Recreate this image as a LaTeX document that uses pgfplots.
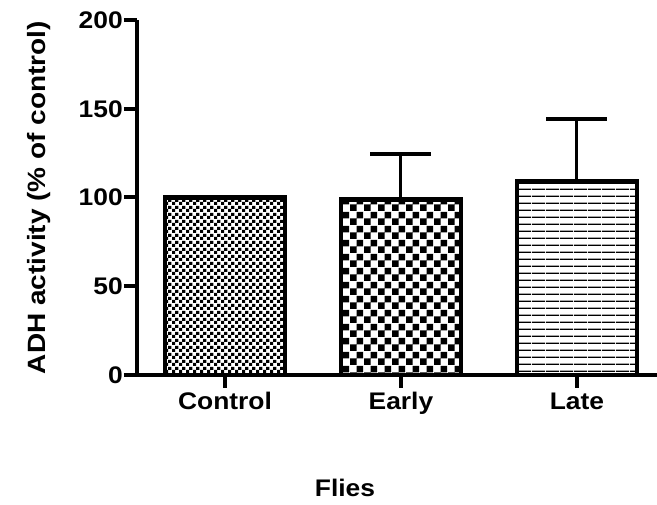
\documentclass[border=0pt]{standalone}
\usepackage{pgfplots}
\pgfplotsset{compat=1.18}
\usetikzlibrary{patterns}
\usepackage{graphicx}
\usepackage{fontspec}
\setmainfont{Liberation Sans}

% fill patterns for the three bars
\pgfdeclarepatternformonly{finecheck}{\pgfqpoint{0pt}{0pt}}{\pgfqpoint{6.6pt}{6.6pt}}{\pgfqpoint{6.6pt}{6.6pt}}{%
  \pgfpathrectangle{\pgfqpoint{0pt}{0pt}}{\pgfqpoint{3.3pt}{3.3pt}}%
  \pgfpathrectangle{\pgfqpoint{3.3pt}{3.3pt}}{\pgfqpoint{3.3pt}{3.3pt}}%
  \pgfusepath{fill}}
\pgfdeclarepatternformonly{coarsecheck}{\pgfqpoint{0pt}{0pt}}{\pgfqpoint{14pt}{14pt}}{\pgfqpoint{14pt}{14pt}}{%
  \pgfpathrectangle{\pgfqpoint{0pt}{0pt}}{\pgfqpoint{7pt}{7pt}}%
  \pgfpathrectangle{\pgfqpoint{7pt}{7pt}}{\pgfqpoint{7pt}{7pt}}%
  \pgfusepath{fill}}
\pgfdeclarepatternformonly{hlines}{\pgfqpoint{0pt}{0pt}}{\pgfqpoint{14pt}{7pt}}{\pgfqpoint{14pt}{7pt}}{%
  \pgfpathrectangle{\pgfqpoint{0pt}{0pt}}{\pgfqpoint{14pt}{1.7pt}}%
  \pgfusepath{fill}}

\newcommand{\labelsize}{\fontsize{24}{29}\selectfont\bfseries}
\newcommand{\wide}[1]{\scalebox{1.1}[1]{#1}}

\begin{document}
\begin{tikzpicture}
\useasboundingbox (-137pt,-130pt) rectangle (520pt,375pt);
\begin{axis}[
  scale only axis,
  width=520pt, height=355pt,
  xmin=-0.5, xmax=2.455,
  ymin=0, ymax=200,
  axis x line*=bottom, axis y line*=left,
  axis line style={line width=4pt, black},
  tick align=outside,
  major tick length=13pt,
  tick style={line width=4pt, black},
  ytick={0,50,100,150,200},
  xtick={0,1,2},
  xticklabels={\wide{Control},\wide{Early},\wide{Late}},
  /pgf/number format/assume math mode=true,
  yticklabel={\wide{\pgfmathprintnumber{\tick}}},
  yticklabel style={font=\labelsize, anchor=east, inner sep=0pt, xshift=-1pt},
  xticklabel style={font=\labelsize, anchor=base, inner sep=0pt, yshift=-22pt},
  ylabel={\scalebox{1.12}[1]{ADH activity (\% of control)}},
  ylabel style={font=\fontsize{25}{30}\selectfont\bfseries, at={(rel axis cs:0,0.5)}, anchor=base, yshift=91pt, inner sep=0pt},
  xlabel={\wide{Flies}},
  xlabel style={font=\labelsize, at={(rel axis cs:0.4,0)}, anchor=base, yshift=-122pt, inner sep=0pt},
  ybar,
  bar width=120pt,
  clip=false,
]
\addplot+[bar shift=0pt, draw=black, line width=4.5pt, pattern=finecheck, pattern color=black]
  coordinates {(0,100)};
\addplot+[bar shift=0pt, draw=black, line width=4.5pt, pattern=coarsecheck, pattern color=black,
  error bars/.cd, y dir=plus, y explicit,
  error bar style={line width=3pt, black},
  error mark options={rotate=90, mark size=30.5pt, line width=4pt, black}]
  coordinates {(1,99) +- (0,25.5)};
\addplot+[bar shift=0pt, draw=black, line width=4.5pt, pattern=hlines, pattern color=black,
  error bars/.cd, y dir=plus, y explicit,
  error bar style={line width=3pt, black},
  error mark options={rotate=90, mark size=30.5pt, line width=4pt, black}]
  coordinates {(2,109) +- (0,35)};
\end{axis}
\end{tikzpicture}
\end{document}
